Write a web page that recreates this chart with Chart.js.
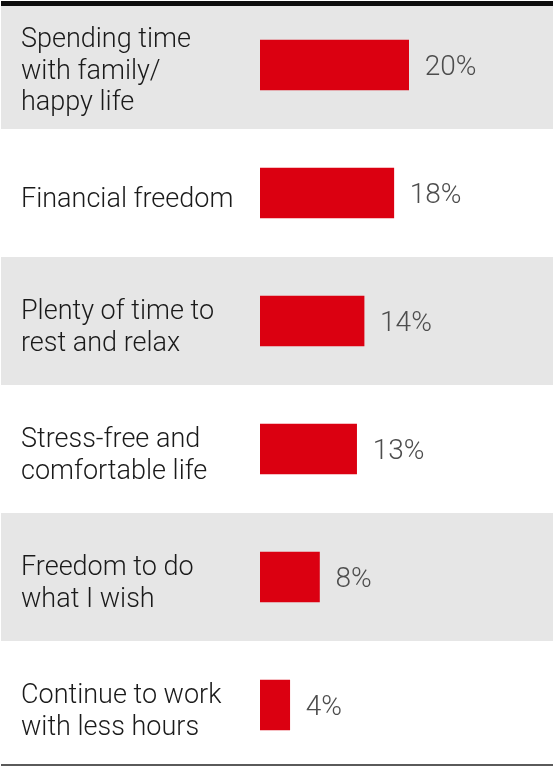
<!DOCTYPE html>
<html>
<head>
<meta charset="utf-8">
<script src="https://cdn.jsdelivr.net/npm/chart.js@4/dist/chart.umd.min.js"></script>
<style>
  html, body { margin: 0; padding: 0; background: #fff; overflow: hidden; }
  #wrap { position: relative; width: 553px; height: 770px; }
</style>
</head>
<body>
<div id="wrap"><canvas id="chart"></canvas></div>
<script>
// Answers, top to bottom
const categories = [
  ["Spending time", "with family/", "happy life"],
  ["Financial freedom"],
  ["Plenty of time to", "rest and relax"],
  ["Stress-free and", "comfortable life"],
  ["Freedom to do", "what I wish"],
  ["Continue to work", "with less hours"]
];
const shares = [20, 18, 14, 13, 8, 4];

const FONT = "Roboto";
const RED = "#db0011";
const BAND = "#e6e6e6";

// alternating grey rows behind everything, plus the rules at top and bottom
const rowBands = {
  id: "rowBands",
  beforeDraw(chart) {
    const { ctx, scales: { y } } = chart;
    const h = (y.bottom - y.top) / categories.length;
    ctx.save();
    ctx.fillStyle = BAND;
    categories.forEach((c, i) => {
      if (i % 2) return;
      const top = Math.max(y.top + i * h, 6);
      const bottom = Math.min(y.top + (i + 1) * h, 764);
      ctx.fillRect(1, top, chart.width - 1, bottom - top);
    });
    ctx.restore();

    // the answer text sits a little lower in its row than the bar does
    const items = y.getLabelItems();
    if (!items._nudged) {
      items.forEach(item => { item.options.translation[1] += 7; });
      items._nudged = true;
    }
  },
  afterDraw(chart) {
    const ctx = chart.ctx;
    ctx.save();
    ctx.fillStyle = "#0d0d0d";
    ctx.fillRect(1, 1, chart.width - 1, 5);
    ctx.fillStyle = "#5a5a5a";
    ctx.fillRect(1, 764, chart.width - 1, 2);
    ctx.restore();
  }
};

// percentage written to the right of each bar
const valueLabels = {
  id: "valueLabels",
  afterDatasetsDraw(chart) {
    const ctx = chart.ctx;
    const meta = chart.getDatasetMeta(0);
    ctx.save();
    ctx.font = "300 28px " + FONT;
    ctx.fillStyle = "#4d4d4d";
    ctx.textAlign = "left";
    ctx.textBaseline = "middle";
    meta.data.forEach((bar, i) => {
      ctx.fillText(shares[i] + "%", bar.x + 16, bar.y + 3);
    });
    ctx.restore();
  }
};

new Chart(document.getElementById("chart").getContext("2d"), {
  type: "bar",
  data: {
    labels: categories,
    datasets: [{
      data: shares,
      backgroundColor: RED,
      borderWidth: 0,
      barThickness: 50
    }]
  },
  options: {
    indexAxis: "y",
    responsive: true,
    maintainAspectRatio: false,
    animation: false,
    layout: { padding: { left: 21, right: 70, top: 1, bottom: 1 } },
    plugins: {
      legend: { display: false },
      tooltip: { enabled: false }
    },
    scales: {
      x: {
        display: false,
        min: 0,
        max: 30
      },
      y: {
        grid: { display: false },
        border: { display: false },
        afterFit(scale) {
          scale.width = 239;
          scale.paddingTop = 0;
          scale.paddingBottom = 0;
        },
        ticks: {
          autoSkip: false,
          crossAlign: "far",
          padding: 0,
          color: "#1a1a1a",
          font: { family: FONT, size: 27, weight: 300, lineHeight: 1.17 }
        }
      }
    }
  },
  plugins: [rowBands, valueLabels]
});
</script>
</body>
</html>
